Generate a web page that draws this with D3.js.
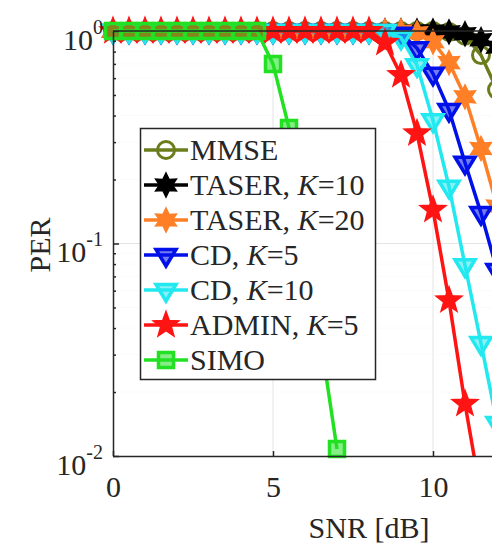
<!DOCTYPE html>
<html><head><meta charset="utf-8">
<script src="https://cdn.jsdelivr.net/npm/d3@7"></script>
<style>
body{margin:0;background:#fff;}
svg{display:block;}
</style>
</head><body>
<svg id="c" width="492" height="549" font-family="'Liberation Serif'"></svg>
<script>
// ---------- data ----------
const snr = [0,0.5,1,1.5,2,2.5,3,3.5,4,4.5,5,5.5,6,6.5,7,7.5,8,8.5,9,9.5,10,10.5,11,11.5,12];
const perMMSE    = [1,1,1,1,1,1,1,1,1,1,1,1,1,1,1,1,1,1,1,1,1,0.99,0.95,0.77,0.53];
const perTASER10 = [1,1,1,1,1,1,1,1,1,1,1,1,1,1,1,1,1,1,1,1,1,0.99,0.97,0.91,0.84];
const perTASER20 = [1,1,1,1,1,1,1,1,1,1,1,1,1,1,1,1,1,1,1,0.98,0.89,0.71,0.49,0.28,0.15];
const perCD5     = [1,1,1,1,1,1,1,1,1,1,1,1,1,1,1,1,1,1,0.97,0.83,0.63,0.425,0.24,0.139,0.075];
const perCD10    = [1,1,1,1,1,1,1,1,1,1,1,1,1,1,1,1,1,1,0.93,0.69,0.38,0.185,0.079,0.034,0.0143];
const perADMIN   = [1,1,1,1,1,1,1,1,1,1,1,1,1,1,1,1,1,0.88,0.62,0.33,0.144,0.054,0.0176,0.0065,null];
const perSIMO    = [1,1,1,1,1,1,1,1,1,1,0.70,0.35,null,null,0.0108,null,null,null,null,null,null,null,null,null,null];

const seriesNames = ["MMSE","TASER, K=10","TASER, K=20","CD, K=5","CD, K=10","ADMIN, K=5","SIMO"];
const seriesData  = [perMMSE,perTASER10,perTASER20,perCD5,perCD10,perADMIN,perSIMO];
const seriesColors = ["#6b7d1b","#000000","#ff7f27","#0010e8","#22e8f0","#ff1414","#22e022"];
const seriesMarkers = ["circle","hexagram","hexagram","tridown","tridown","star","square"];

const xTicks = [0,5,10];
const yMajor = [0.01,0.1,1];
const yMajorExp = ["-2","-1","0"];
const yMinor = [0.02,0.03,0.04,0.05,0.06,0.07,0.08,0.09,0.2,0.3,0.4,0.5,0.6,0.7,0.8,0.9];

// ---------- layout ----------
const FONT = "'Liberation Serif'";
const TXT = "#262626";
const svg = d3.select("#c");
const L = 113, T = 31, B = 456;
const x = d3.scaleLinear().domain([0,15]).range([L, L + 15*32]);
const y = d3.scaleLog().domain([0.01,1]).range([B, T]);
const axisColor = "#262626";

// grid
const grid = svg.append("g");
grid.selectAll("line.gx").data(xTicks.slice(1)).join("line")
  .attr("x1", d=>x(d)).attr("x2", d=>x(d)).attr("y1", T).attr("y2", B)
  .attr("stroke", "#e4e4e4").attr("stroke-width", 1);
grid.selectAll("line.gy").data(yMajor.slice(1)).join("line")
  .attr("x1", L).attr("x2", 492).attr("y1", d=>y(d)).attr("y2", d=>y(d))
  .attr("stroke", "#e4e4e4").attr("stroke-width", 1);
grid.selectAll("line.gm").data(yMinor).join("line")
  .attr("x1", L).attr("x2", 492).attr("y1", d=>y(d)).attr("y2", d=>y(d))
  .attr("stroke", "#efefef").attr("stroke-width", 1).attr("stroke-dasharray","1,3");

// clip for lines
svg.append("defs").append("clipPath").attr("id","pc")
  .append("rect").attr("x", L).attr("y", T-12).attr("width", 600).attr("height", B-T+12);

// marker shapes
function starPath(n, ro, ri){
  let p = [];
  for(let i=0;i<2*n;i++){
    const r = i%2===0 ? ro : ri;
    const a = -Math.PI/2 + i*Math.PI/n;
    p.push([r*Math.cos(a), r*Math.sin(a)]);
  }
  return "M" + p.map(q=>q[0].toFixed(2)+","+q[1].toFixed(2)).join("L") + "Z";
}
function markerPath(kind){
  if(kind==="circle") return d3.symbol(d3.symbolCircle, Math.PI*8.5*8.5)();
  if(kind==="hexagram") return starPath(6, 12, 6.4);
  if(kind==="star") return starPath(5, 13.5, 5.6);
  if(kind==="square") return "M-7.5,-7.5L7.5,-7.5L7.5,7.5L-7.5,7.5Z";
  if(kind==="tridown") return "M-10,-5.5L10,-5.5L0,11Z";
}
function markerStyle(sel, kind, color){
  if(kind==="circle"){
    sel.attr("fill","none").attr("stroke",color).attr("stroke-width",3);
  } else if(kind==="tridown" || kind==="square"){
    sel.attr("fill",color).attr("fill-opacity",0.55).attr("stroke",color).attr("stroke-width",3.5).attr("stroke-linejoin","miter");
  } else {
    sel.attr("fill",color).attr("stroke",color).attr("stroke-width",1.5);
  }
}

const line = d3.line().x(d=>x(d[0])).y(d=>y(d[1]));

seriesData.forEach((vals,i)=>{
  const pts = snr.map((s,j)=>[s, vals[j]]).filter(d=>d[1]!==null);
  const g = svg.append("g");
  g.append("path").datum(pts).attr("d", line)
    .attr("clip-path","url(#pc)")
    .attr("fill","none").attr("stroke", seriesColors[i]).attr("stroke-width", 3.5)
    .attr("stroke-linejoin","round");
  const mk = g.selectAll("path.m").data(pts.filter(d=>d[1]>=0.01)).join("path")
    .attr("class","m")
    .attr("transform", d=>`translate(${x(d[0])},${y(d[1])})`)
    .attr("d", markerPath(seriesMarkers[i]));
  markerStyle(mk, seriesMarkers[i], seriesColors[i]);
});

// ---------- axes ----------
const xAxis = svg.append("g").attr("transform",`translate(0,${B})`)
  .call(d3.axisBottom(x).tickValues(xTicks).tickSizeInner(-5).tickSizeOuter(0).tickPadding(20).tickFormat(d3.format("d")));
xAxis.attr("font-family", FONT).attr("font-size", 30);
xAxis.select(".domain").attr("d", `M${L},0.5H492`).attr("stroke",axisColor).attr("stroke-width",1.5);
xAxis.selectAll(".tick line").attr("stroke",axisColor).attr("stroke-width",1.5);
xAxis.selectAll(".tick text").attr("font-size",30).attr("font-family",FONT).attr("fill",TXT);

const yMinAxis = svg.append("g").attr("transform",`translate(${L},0)`)
  .call(d3.axisLeft(y).tickValues(yMinor).tickSizeInner(-3).tickSizeOuter(0).tickFormat(""));
yMinAxis.select(".domain").remove();
yMinAxis.selectAll(".tick line").attr("stroke",axisColor).attr("stroke-width",1.5);

const yAxis = svg.append("g").attr("transform",`translate(${L},0)`)
  .call(d3.axisLeft(y).tickValues(yMajor).tickSizeInner(-6).tickSizeOuter(0).tickFormat(""));
yAxis.attr("font-family", FONT);
yAxis.select(".domain").attr("stroke",axisColor).attr("stroke-width",1.5);
yAxis.selectAll(".tick line").attr("stroke",axisColor).attr("stroke-width",1.5);
yAxis.selectAll(".tick text").remove();
yAxis.selectAll(".tick").each(function(d){
  const t = d3.select(this);
  const sup = t.append("text").attr("x",-10).attr("y",2).attr("text-anchor","end")
    .attr("font-family",FONT).attr("fill",TXT)
    .attr("font-size",20).text(yMajorExp[yMajor.indexOf(d)]);
  const w = sup.node().getComputedTextLength();
  t.append("text").attr("x",-10 - w).attr("y",18).attr("text-anchor","end")
    .attr("font-family",FONT).attr("fill",TXT)
    .attr("font-size",30).text("10");
});

// top box line
svg.append("line").attr("x1",L).attr("x2",492).attr("y1",T).attr("y2",T)
  .attr("stroke",axisColor).attr("stroke-width",1.5);

// labels
svg.append("text").attr("x",369).attr("y",538).attr("text-anchor","middle")
  .attr("font-family",FONT).attr("fill",TXT)
  .attr("font-size",30).text("SNR [dB]");
svg.append("text").attr("transform","translate(50,245) rotate(-90)").attr("text-anchor","middle")
  .attr("font-family",FONT).attr("fill",TXT)
  .attr("font-size",30).text("PER");

// ---------- legend ----------
const lg = svg.append("g");
lg.append("rect").attr("x",140.5).attr("y",128.5).attr("width",235).attr("height",251)
  .attr("fill","#fff").attr("stroke",axisColor).attr("stroke-width",1.5);
seriesNames.forEach((nm,i)=>{
  const cy = 150 + i*35;
  lg.append("line").attr("x1",144).attr("x2",188).attr("y1",cy).attr("y2",cy)
    .attr("stroke",seriesColors[i]).attr("stroke-width",3.5);
  const m = lg.append("path").attr("transform",`translate(166,${cy})`).attr("d",markerPath(seriesMarkers[i]));
  markerStyle(m, seriesMarkers[i], seriesColors[i]);
  const tx = lg.append("text").attr("x",190).attr("y",cy+10).attr("font-size",30)
    .attr("font-family",FONT).attr("fill",TXT);
  const parts = nm.split("K=");
  if(parts.length===2){
    tx.append("tspan").text(parts[0]);
    tx.append("tspan").attr("font-style","italic").text("K");
    tx.append("tspan").text("=" + parts[1]);
  } else {
    tx.text(nm);
  }
});
</script>
</body></html>
